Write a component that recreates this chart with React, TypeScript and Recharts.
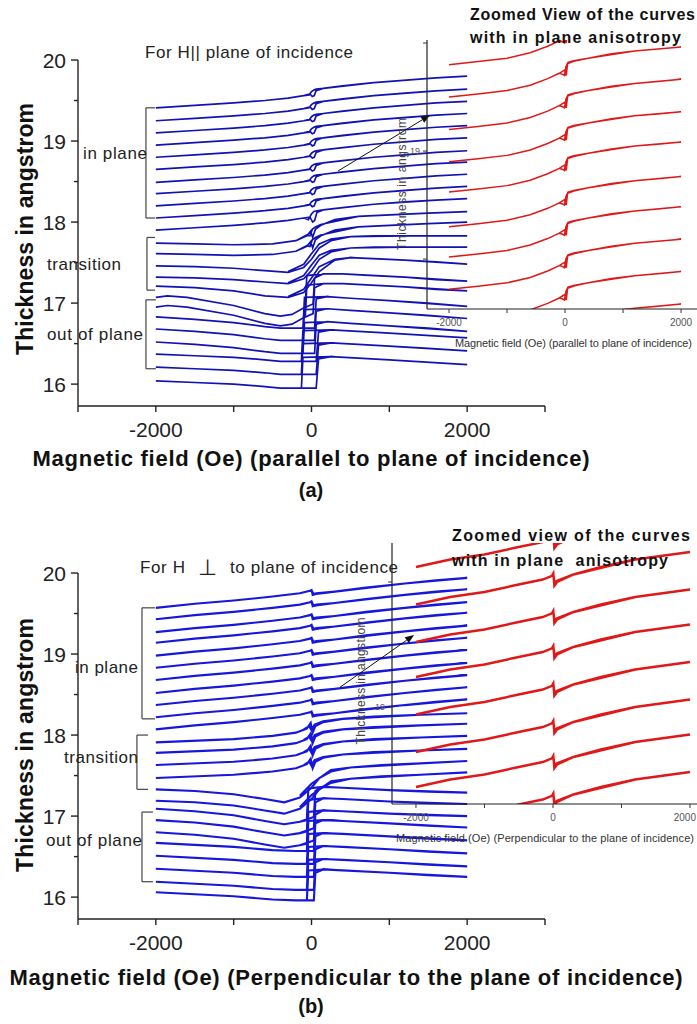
import { LineChart, Line, XAxis, YAxis, ReferenceLine } from "recharts";

type Pt = [number, number];

// axes
const fieldTicks = [-3000, -2000, -1000, 0, 1000, 2000, 3000];
const fieldLabels = [-2000, 0, 2000];
const thickTicks = [16, 16.5, 17, 17.5, 18, 18.5, 19, 19.5, 20];
const insetFieldTicks = [-2000, -1000, 0, 1000, 2000];

// curve shapes: [field (Oe), shift in angstrom from the -2000 Oe end]
// each one is drawn up the ascending sweep, then back down the descending sweep near 0
const shapes: Record<string, Pt[]> = {
  aIn: [[-2000, 0], [-1500, 0.03], [-1000, 0.06], [-600, 0.09], [-300, 0.12], [-100, 0.15], [-20, 0.17], [10, 0.14], [35, 0.15], [60, 0.21], [150, 0.24], [400, 0.27], [800, 0.31], [1200, 0.34], [1600, 0.37], [2000, 0.39],
    [1600, 0.37], [800, 0.31], [150, 0.24], [60, 0.23], [30, 0.22], [0, 0.2], [-30, 0.16], [-100, 0.15]],
  aInWide: [[-2000, 0], [-1500, 0.03], [-1000, 0.06], [-600, 0.09], [-300, 0.12], [-100, 0.15], [-20, 0.16], [15, 0.1], [40, 0.12], [70, 0.22], [150, 0.25], [400, 0.28], [800, 0.32], [1200, 0.35], [1600, 0.37], [2000, 0.39],
    [1600, 0.37], [800, 0.32], [150, 0.25], [70, 0.24], [30, 0.23], [0, 0.2], [-40, 0.13], [-100, 0.15]],
  aZig: [[-2000, 0], [-1500, -0.01], [-1000, -0.02], [-500, -0.01], [-200, 0.03], [-60, 0.09], [-10, 0.15], [15, 0.07], [50, 0.17], [120, 0.22], [300, 0.29], [600, 0.33], [1000, 0.35], [1500, 0.37], [2000, 0.39],
    [1500, 0.37], [600, 0.33], [120, 0.23], [50, 0.2], [10, 0.17], [-20, 0.09], [-60, 0.1], [-200, 0.03]],
  aHump: [[-2000, 0], [-1500, -0.01], [-1000, -0.03], [-600, -0.06], [-300, -0.08], [-100, -0.02], [0, 0.08], [100, 0.22], [250, 0.31], [500, 0.36], [800, 0.37], [1200, 0.37], [1600, 0.37], [2000, 0.37],
    [1200, 0.37], [500, 0.36], [250, 0.33], [100, 0.27], [0, 0.15], [-100, 0.02], [-300, -0.07]],
  aDip: [[-2000, 0], [-1500, -0.02], [-1000, -0.06], [-600, -0.12], [-300, -0.14], [-100, -0.08], [0, 0.04], [100, 0.18], [300, 0.32], [500, 0.35], [800, 0.34], [1200, 0.32], [1600, 0.3], [2000, 0.27],
    [1200, 0.32], [500, 0.35], [300, 0.33], [100, 0.24], [0, 0.1], [-100, -0.04], [-300, -0.13]],
  aOopU: [[-2000, 0], [-1850, 0.02], [-1600, 0], [-1000, -0.1], [-600, -0.2], [-400, -0.23], [-250, -0.21], [-120, -0.14], [20, -0.08], [40, 0.24], [150, 0.29], [400, 0.29], [800, 0.27], [1200, 0.25], [1600, 0.22], [2000, 0.2],
    [1200, 0.25], [400, 0.29], [150, 0.29], [-60, 0.27], [-80, -0.12], [-120, -0.14]],
  aOopM: [[-2000, 0], [-1500, -0.03], [-1000, -0.07], [-600, -0.12], [-400, -0.14], [-200, -0.14], [40, -0.14], [60, 0.22], [200, 0.25], [500, 0.23], [1000, 0.2], [1500, 0.17], [2000, 0.13],
    [1000, 0.2], [500, 0.23], [200, 0.25], [-90, 0.24], [-110, -0.14], [-200, -0.14]],
  aOopL: [[-2000, 0], [-1500, -0.02], [-1000, -0.04], [-600, -0.07], [-400, -0.09], [-150, -0.09], [60, -0.09], [90, 0.27], [250, 0.3], [600, 0.28], [1000, 0.26], [1500, 0.23], [2000, 0.2],
    [1000, 0.26], [600, 0.28], [250, 0.3], [-110, 0.29], [-130, -0.09], [-200, -0.09]],
  bIn: [[-2000, 0], [-1500, 0.05], [-1000, 0.09], [-500, 0.14], [-150, 0.18], [-20, 0.21], [0, 0.22], [15, 0.16], [60, 0.17], [300, 0.2], [700, 0.25], [1200, 0.3], [1600, 0.34], [2000, 0.37],
    [1200, 0.3], [300, 0.2], [60, 0.18], [25, 0.17], [5, 0.21], [-20, 0.21]],
  bZig: [[-2000, 0], [-1000, 0.04], [-500, 0.08], [-200, 0.12], [-60, 0.17], [-10, 0.24], [15, 0.12], [50, 0.2], [150, 0.25], [400, 0.29], [800, 0.32], [1400, 0.34], [2000, 0.36],
    [1400, 0.34], [400, 0.29], [150, 0.26], [40, 0.22], [0, 0.15], [-30, 0.2], [-100, 0.16]],
  bDip: [[-2000, 0], [-1500, -0.02], [-1000, -0.06], [-600, -0.12], [-350, -0.16], [-150, -0.1], [0, 0.02], [100, 0.14], [250, 0.22], [500, 0.27], [900, 0.3], [1400, 0.32], [2000, 0.35],
    [1400, 0.32], [500, 0.27], [250, 0.24], [0, 0.07], [-150, -0.08]],
  bOopU: [[-2000, 0], [-1500, -0.03], [-1000, -0.08], [-600, -0.15], [-350, -0.19], [-150, -0.16], [30, -0.1], [50, 0.22], [150, 0.27], [400, 0.26], [1000, 0.23], [1500, 0.21], [2000, 0.2],
    [1000, 0.23], [400, 0.26], [150, 0.27], [-40, 0.25], [-60, -0.14], [-150, -0.16]],
  bOopL: [[-2000, 0], [-1000, -0.05], [-500, -0.09], [-200, -0.1], [30, -0.1], [50, 0.24], [150, 0.28], [400, 0.27], [1000, 0.24], [1500, 0.21], [2000, 0.19],
    [1000, 0.24], [400, 0.27], [150, 0.28], [-40, 0.27], [-60, -0.1], [-200, -0.1]],
  redA: [[-2000, 0], [-1500, 0.014], [-1000, 0.03], [-600, 0.055], [-300, 0.085], [-100, 0.11], [-10, 0.125], [20, 0.1], [45, 0.155], [150, 0.165], [400, 0.18], [800, 0.2], [1200, 0.213], [1600, 0.222], [2000, 0.232],
    [1200, 0.213], [400, 0.18], [150, 0.168], [50, 0.16], [15, 0.14], [-10, 0.1], [-40, 0.105], [-100, 0.11]],
  redB: [[-2000, 0], [-1500, 0.03], [-1000, 0.05], [-500, 0.08], [-150, 0.1], [-15, 0.115], [5, 0.125], [20, 0.075], [60, 0.09], [300, 0.12], [700, 0.15], [1200, 0.18], [1600, 0.195], [2000, 0.21],
    [1200, 0.18], [300, 0.12], [60, 0.095], [25, 0.085], [5, 0.12]],
};

// panel (a): thickness of each curve at -2000 Oe, top to bottom
const baseA = [19.41, 19.25, 19.1, 18.95, 18.8, 18.65, 18.49, 18.35, 18.2, 18.05, 17.9, 17.74, 17.61, 17.46, 17.32, 17.21, 17.07, 16.95, 16.83, 16.68, 16.52, 16.37, 16.21, 16.04];
const kindA = ["aIn", "aIn", "aIn", "aIn", "aIn", "aIn", "aIn", "aIn", "aIn", "aIn", "aInWide", "aZig", "aZig", "aHump", "aHump", "aDip", "aOopU", "aOopU", "aOopM", "aOopM", "aOopM", "aOopL", "aOopL", "aOopL"];
const redBaseA = [19.4, 19.25, 19.1, 18.95, 18.81, 18.65, 18.51, 18.36, 18.21, 18.06];

// panel (b)
const baseB = [19.57, 19.43, 19.27, 19.14, 18.98, 18.83, 18.68, 18.52, 18.37, 18.22, 18.07, 17.91, 17.78, 17.63, 17.47, 17.33, 17.19, 17.09, 16.95, 16.8, 16.67, 16.51, 16.35, 16.19, 16.06];
const kindB = ["bIn", "bIn", "bIn", "bIn", "bIn", "bIn", "bIn", "bIn", "bIn", "bIn", "bIn", "bZig", "bZig", "bZig", "bZig", "bDip", "bDip", "bOopU", "bOopU", "bOopU", "bOopL", "bOopL", "bOopL", "bOopL", "bOopL"];
const redBaseB = [19.56, 19.41, 19.26, 19.12, 18.97, 18.82, 18.68, 18.53, 18.39];

const curve = (base: number, kind: string) => shapes[kind].map(([h, d]) => ({ h, t: +(base + d).toFixed(3) }));

// bracket annotations [field, top, bottom, tick end field]
const bracketsA: [number, number, number, number][] = [[-2127, 19.41, 18.05, -2011], [-2114, 17.81, 17.16, -2011], [-2127, 17.04, 16.19, -2000]];
const bracketsB: [number, number, number, number][] = [[-2178, 19.57, 18.2, -2011], [-2243, 18.0, 17.33, -2101], [-2178, 17.05, 16.19, -2037]];
const arrowA = [{ x: 341, y: 18.63 }, { x: 1523, y: 19.32 }];
const arrowB = [{ x: 366, y: 18.59 }, { x: 1318, y: 19.235 }];

const INK = "#222";

function MainYTick(p: any) {
  const v = p.payload.value;
  const major = Number.isInteger(v);
  return (
    <g>
      <line x1={p.x} x2={p.x - (major ? 7 : 4)} y1={p.y} y2={p.y} stroke={INK} strokeWidth={1.4} />
      {major && (
        <text x={p.x - 12} y={p.y} dy="0.36em" textAnchor="end" fontSize={21} fill={INK}>{v}</text>
      )}
    </g>
  );
}

function MainXTick(p: any) {
  const v = p.payload.value;
  return (
    <g>
      <line x1={p.x} x2={p.x} y1={p.y} y2={p.y + 6} stroke={INK} strokeWidth={1.4} />
      {fieldLabels.includes(v) && (
        <text x={p.x} y={p.y + 31} textAnchor="middle" fontSize={21} fill={INK}>{v}</text>
      )}
    </g>
  );
}

function InsetYTick(p: any) {
  const v = p.payload.value;
  return (
    <g>
      <line x1={p.x} x2={p.x - 4} y1={p.y} y2={p.y} stroke="#333" strokeWidth={1} />
      {v === 19 && (
        <text x={p.x - 7} y={p.y} dy="0.35em" textAnchor="end" fontSize={9} fill="#555">{v}</text>
      )}
    </g>
  );
}

function InsetXTick(p: any) {
  const v = p.payload.value;
  const nearEdge = p.x + 13 > 697;
  return (
    <g>
      <line x1={p.x} x2={p.x} y1={p.y} y2={p.y + 4} stroke="#333" strokeWidth={1} />
      {v % 2000 === 0 && (
        <text x={nearEdge ? 696 : p.x} y={p.y + 17} textAnchor={nearEdge ? "end" : "middle"} fontSize={10} fill="#555">{v}</text>
      )}
    </g>
  );
}

const arrowShape = (p: any) => {
  const { x1, y1, x2, y2 } = p;
  const a = Math.atan2(y2 - y1, x2 - x1);
  const bx = x2 - 9 * Math.cos(a);
  const by = y2 - 9 * Math.sin(a);
  const s = Math.sin(a) * 3.5;
  const c = Math.cos(a) * 3.5;
  return (
    <g>
      <line x1={x1} y1={y1} x2={bx} y2={by} stroke="#111" strokeWidth={1} />
      <polygon points={`${x2},${y2} ${bx - s},${by + c} ${bx + s},${by - c}`} fill="#111" />
    </g>
  );
};

function MainPanel({ bases, kinds, brackets, arrow, color, width }: { bases: number[]; kinds: string[]; brackets: [number, number, number, number][]; arrow: { x: number; y: number }[]; color: string; width: number }) {
  return (
    <LineChart width={697} height={500} margin={{ top: 60, right: 152, bottom: 93, left: 77 }}>
      <XAxis type="number" dataKey="h" domain={[-3000, 3000]} ticks={fieldTicks} height={1} tickSize={0} tickMargin={0} tickLine={false} tick={MainXTick} axisLine={{ stroke: INK, strokeWidth: 1.4 }} allowDataOverflow interval={0} />
      <YAxis type="number" domain={[15.73, 20]} ticks={thickTicks} width={1} tickSize={0} tickMargin={0} tickLine={false} tick={MainYTick} axisLine={{ stroke: INK, strokeWidth: 1.4 }} allowDataOverflow interval={0} />
      {bases.map((b, i) => (
        <Line key={i} data={curve(b, kinds[i])} dataKey="t" type="linear" stroke={color} strokeWidth={width} dot={false} activeDot={false} isAnimationActive={false} />
      ))}
      {brackets.map(([x, top, bot, tx], i) => [
        <ReferenceLine key={`v${i}`} segment={[{ x, y: top }, { x, y: bot }]} stroke="#444" strokeWidth={1.2} />,
        <ReferenceLine key={`t${i}`} segment={[{ x, y: top }, { x: tx, y: top }]} stroke="#444" strokeWidth={1.2} />,
        <ReferenceLine key={`b${i}`} segment={[{ x, y: bot }, { x: tx, y: bot }]} stroke="#444" strokeWidth={1.2} />,
      ])}
      <ReferenceLine segment={arrow} shape={arrowShape} />
    </LineChart>
  );
}

function InsetPanel({ top, left, bottom, height, domainX, domainY, yTicks, bases, kind, width, pxPerOe }: { top: number; left: number; bottom: number; height: number; domainX: [number, number]; domainY: [number, number]; yTicks: number[]; bases: number[]; kind: string; width: number; pxPerOe: number }) {
  const right = 720 - left - (domainX[1] - domainX[0]) * pxPerOe;
  return (
    <LineChart width={720} height={height} margin={{ top, right, bottom: bottom - 1, left: left - 1 }}>
      <XAxis type="number" dataKey="h" domain={domainX} ticks={insetFieldTicks} height={1} tickSize={0} tickMargin={0} tickLine={false} tick={InsetXTick} axisLine={{ stroke: "#222", strokeWidth: 1.2 }} allowDataOverflow interval={0} />
      <YAxis type="number" domain={domainY} ticks={yTicks} width={1} tickSize={0} tickMargin={0} tickLine={false} tick={InsetYTick} axisLine={{ stroke: "#222", strokeWidth: 1.2 }} allowDataOverflow interval={0} />
      {bases.map((b, i) => (
        <Line key={i} data={curve(b, kind)} dataKey="t" type="linear" stroke="#e01818" strokeWidth={width} dot={false} activeDot={false} isAnimationActive={false} />
      ))}
    </LineChart>
  );
}

const abs = { position: "absolute" as const, left: 0 };

export default function App() {
  return (
    <div style={{ position: "absolute", left: 0, top: 0, width: 697, height: 1024, overflow: "hidden", background: "#fff", fontFamily: '"Liberation Sans", Arial, sans-serif' }}>
      <div style={{ ...abs, top: 0 }}>
        <MainPanel bases={baseA} kinds={kindA} brackets={bracketsA} arrow={arrowA} color="#1212b4" width={1.7} />
      </div>
      <div style={{ ...abs, top: 513 }}>
        <MainPanel bases={baseB} kinds={kindB} brackets={bracketsB} arrow={arrowB} color="#1616dc" width={2.1} />
      </div>
      <div style={{ ...abs, top: 0 }}>
        <InsetPanel top={40} left={427} bottom={51} height={360} domainX={[-2380, 2380]} domainY={[18.269, 19.514]} yTicks={[18.5, 19, 19.5]} bases={redBaseA} kind="redA" width={1.5} pxPerOe={0.058} />
      </div>
      <div style={{ ...abs, top: 0 }}>
        <InsetPanel top={543} left={392} bottom={56} height={860} domainX={[-2350, 2350]} domainY={[18.612, 19.656]} yTicks={[19, 19.5]} bases={redBaseB} kind="redB" width={2.4} pxPerOe={0.0685} />
      </div>
      <svg width={697} height={1024} style={{ position: "absolute", left: 0, top: 0, pointerEvents: "none" }}>
        <g fill={INK}>
          {/* panel (a) */}
          <text x={145} y={58} fontSize={17} textLength={208}>For H|| plane of incidence</text>
          <text x={83} y={159} fontSize={17} textLength={64}>in plane</text>
          <text x={47} y={270} fontSize={17} textLength={74}>transition</text>
          <text x={47} y={340} fontSize={17} textLength={96}>out of plane</text>
          <text x={25} y={229} transform="rotate(-90 25 229)" textAnchor="middle" dy="0.36em" fontSize={23} fontWeight={700} fill="#111" textLength={252}>Thickness in angstrom</text>
          <text x={311} y={466} textAnchor="middle" fontSize={22} fontWeight={700} fill="#111" textLength={557}>Magnetic field (Oe) (parallel to plane of incidence)</text>
          <text x={311} y={497} textAnchor="middle" fontSize={20} fontWeight={700} fill="#111">(a)</text>
          <text x={470} y={20} fontSize={16} fontWeight={700} fill="#111" textLength={225}>Zoomed View of the curves</text>
          <text x={470} y={43} fontSize={16} fontWeight={700} fill="#111" textLength={211}>with in plane anisotropy</text>
          <text x={402} y={184} transform="rotate(-90 402 184)" textAnchor="middle" dy="0.35em" fontSize={12} fill="#444" textLength={132}>Thickness in angstrom</text>
          <text x={455} y={347} fontSize={11} fill="#333" textLength={237}>Magnetic field (Oe) (parallel to plane of incidence)</text>

          {/* panel (b) */}
          <text x={140} y={573} fontSize={17} textLength={45}>For H</text>
          <text x={198} y={575} fontSize={22} fontFamily="DejaVu Sans">⊥</text>
          <text x={230} y={573} fontSize={17} textLength={168}>to plane of incidence</text>
          <text x={75} y={673} fontSize={17} textLength={63}>in plane</text>
          <text x={64} y={763} fontSize={17} textLength={74}>transition</text>
          <text x={46} y={846} fontSize={17} textLength={96}>out of plane</text>
          <text x={25} y={745} transform="rotate(-90 25 745)" textAnchor="middle" dy="0.36em" fontSize={23} fontWeight={700} fill="#111" textLength={254}>Thickness in angstrom</text>
          <text x={346} y={985} textAnchor="middle" fontSize={22} fontWeight={700} fill="#111" textLength={673}>Magnetic field (Oe) (Perpendicular to the plane of incidence)</text>
          <text x={311} y={1013} textAnchor="middle" fontSize={20} fontWeight={700} fill="#111">(b)</text>
          <text x={452} y={541} fontSize={16} fontWeight={700} fill="#111" textLength={238}>Zoomed view of the curves</text>
          <text x={452} y={566} fontSize={16} fontWeight={700} fill="#111" textLength={216} style={{ whiteSpace: "pre" }}>with in plane  anisotropy</text>
          <text x={361} y={681} transform="rotate(-90 361 681)" textAnchor="middle" dy="0.35em" fontSize={12} fill="#444" textLength={127}>Thickness in angstrom</text>
          <text x={396} y={842} fontSize={11} fill="#333" textLength={298}>Magnetic field (Oe) (Perpendicular to the plane of incidence)</text>
        </g>
      </svg>
    </div>
  );
}
